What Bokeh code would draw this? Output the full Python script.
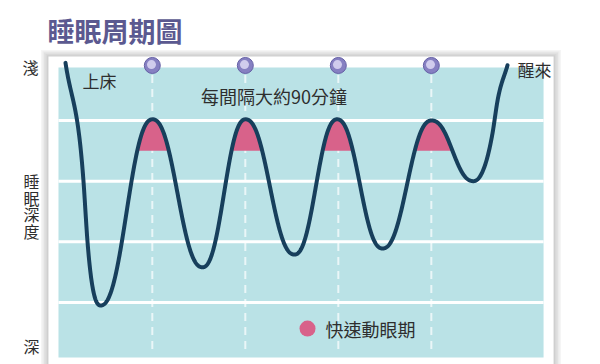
import numpy as np
from bokeh.plotting import figure
from bokeh.models import Range1d
from bokeh.core.properties import value
from bokeh.embed import file_html
from bokeh.resources import INLINE

# ---- data ----
# minutes after going to bed, sleep depth level (0 = light/awake, higher = deeper)
sleep_min = [0, 17.4, 21.3, 33.9, 84.2, 132.6, 174.2, 221.6, 262.8, 306.8,
             354.2, 394.8, 413.2, 418.1, 427.7]
sleep_depth = [0.05, 2.0, 3.0, 4.05, 0.98, 3.42, 0.98, 3.21, 0.98, 3.11,
               1.0, 2.0, 1.21, 0.67, 0.09]
cycle_min = [84, 174, 264, 354]          # ~every 90 minutes
depth_levels = [1, 2, 3, 4]
rem_level = 1.5                           # above this = REM (pink)
rem_peaks = [84.2, 174.2, 262.8, 354.2]
depth_axis_chars = ["睡", "眠", "深", "度"]

FONT = value("Noto Sans CJK TC")
TXT = "#2e2e2e"
NAVY = "#173f5c"
PINK = "#d8628a"
CYAN = "#bae2e6"

# one screen pixel in data units (decoration extents only)
PX_X = 1 / 1.03333
PX_Y = 1 / 60.67

p = figure(width=600, height=364, output_backend="svg", toolbar_location=None,
           x_range=Range1d(-62.9, 517.7), y_range=Range1d(5.022, -0.978),
           min_border=0, background_fill_color="white", border_fill_color="white")
p.axis.visible = False
p.grid.visible = False
p.outline_line_color = None

# ---- panel shadow + white panel ----
pl, pr, pt, pb = -16.5, 472.3, -0.055, 5.3
for k in range(1, 6):
    p.quad(left=pl - k * 1.5 * PX_X, right=pr + k * 1.5 * PX_X,
           top=pt - k * 1.3 * PX_Y, bottom=pb, fill_color="black",
           fill_alpha=0.04, line_color=None)
p.quad(left=pl, right=pr, top=pt, bottom=pb, fill_color="white", line_color=None)

# ---- cyan plot area ----
p.quad(left=-6.8, right=462.6, top=0.126, bottom=4.905, fill_color=CYAN, line_color=None)

# horizontal white level lines
p.multi_line(xs=[[-6.8, 462.6] for _ in depth_levels],
             ys=[[d, d] for d in depth_levels], line_color="white", line_width=3)

# vertical dashed cycle lines
p.multi_line(xs=[[c, c] for c in cycle_min], ys=[[0.25, 4.8] for _ in cycle_min],
             line_color="white", line_alpha=0.7, line_width=2, line_dash="8 6")


# ---- smooth curve through the read points ----
def ease(t):
    a = (1 - np.cos(np.pi * t)) / 2
    b = t - np.sin(2 * np.pi * t) / (2 * np.pi)
    return 0.5 * a + 0.5 * b


def smooth(x, y, xs):
    x = np.asarray(x, float)
    y = np.asarray(y, float)
    h = np.diff(x)
    dl = np.diff(y) / h
    n = len(x)
    m = np.zeros(n)
    m[0] = dl[0]
    m[-1] = dl[-1]
    for k in range(1, n - 1):
        if dl[k - 1] * dl[k] <= 0:
            m[k] = 0.0
        else:
            m[k] = (h[k] * dl[k - 1] + h[k - 1] * dl[k]) / (h[k - 1] + h[k])
    for k in range(n - 1):
        if dl[k] == 0:
            m[k] = m[k + 1] = 0
            continue
        a, b = m[k] / dl[k], m[k + 1] / dl[k]
        s = a * a + b * b
        if s > 9:
            tau = 3 / np.sqrt(s)
            m[k] = tau * a * dl[k]
            m[k + 1] = tau * b * dl[k]
    out = np.empty_like(xs)
    idx = np.clip(np.searchsorted(x, xs, side="right") - 1, 0, n - 2)
    for i, xv in enumerate(xs):
        k = idx[i]
        t = (xv - x[k]) / h[k]
        if m[k] == 0 and m[k + 1] == 0:
            out[i] = y[k] + (y[k + 1] - y[k]) * ease(t)
        else:
            h00 = 2 * t**3 - 3 * t**2 + 1
            h10 = t**3 - 2 * t**2 + t
            h01 = -2 * t**3 + 3 * t**2
            h11 = t**3 - t**2
            out[i] = (h00 * y[k] + h10 * h[k] * m[k] +
                      h01 * y[k + 1] + h11 * h[k] * m[k + 1])
    return out


xs = np.linspace(sleep_min[0], sleep_min[-1], 1500)
ys = smooth(sleep_min, sleep_depth, xs)

# pink REM areas (curve above the REM level around each peak)
px_list, py_list = [], []
for pk in rem_peaks:
    sel = (np.abs(xs - pk) < 40) & (ys < rem_level)
    sx = xs[sel]
    sy = ys[sel]
    px_list.append(list(sx) + [sx[-1], sx[0]])
    py_list.append(list(sy) + [rem_level, rem_level])
p.patches(xs=px_list, ys=py_list, fill_color=PINK, line_color=None)

p.line(xs, ys, line_color=NAVY, line_width=4, line_cap="round", line_join="round")

# cycle marker circles
p.scatter(cycle_min, [0.093] * len(cycle_min), size=16, fill_color="#8680c2",
          line_color="#6661a6", line_width=1)
p.scatter([c - 0.8 for c in cycle_min], [0.078] * len(cycle_min), size=9,
          fill_color="#d8d4f2", line_color=None, fill_alpha=0.9)

# ---- texts ----
p.text(x=[-17.4], y=[-0.483], text=["睡眠周期圖"], text_font=FONT, text_font_size="27px",
       text_font_style="bold", text_color="#5b5990", text_baseline="middle", text_align="left")
p.text(x=[-33.9], y=[0.11], text=["淺"], text_font=FONT, text_font_size="16px",
       text_color=TXT, text_baseline="middle", text_align="center")
p.text(x=[-32.9] * 4, y=[1.998, 2.27, 2.545, 2.825], text=depth_axis_chars, text_font=FONT,
       text_font_size="16px", text_color=TXT, text_baseline="middle", text_align="center")
p.text(x=[-32.9], y=[4.71], text=["深"], text_font=FONT, text_font_size="16px",
       text_color=TXT, text_baseline="middle", text_align="center")
p.text(x=[16.5], y=[0.34], text=["上床"], text_font=FONT, text_font_size="17px",
       text_color=TXT, text_baseline="middle", text_align="left")
p.text(x=[201.8], y=[0.596], text=["每間隔大約90分鐘"], text_font=FONT, text_font_size="18px",
       text_color=TXT, text_baseline="middle", text_align="center")
p.text(x=[437.4], y=[0.16], text=["醒來"], text_font=FONT, text_font_size="17px",
       text_color=TXT, text_baseline="middle", text_align="left")

# legend
p.scatter([234.2], [4.43], size=16, fill_color=PINK, line_color=None)
p.text(x=[251.6], y=[4.43], text=["快速動眼期"], text_font=FONT, text_font_size="18px",
       text_color=TXT, text_baseline="middle", text_align="left")

open("out.html", "w").write(file_html(p, INLINE))
